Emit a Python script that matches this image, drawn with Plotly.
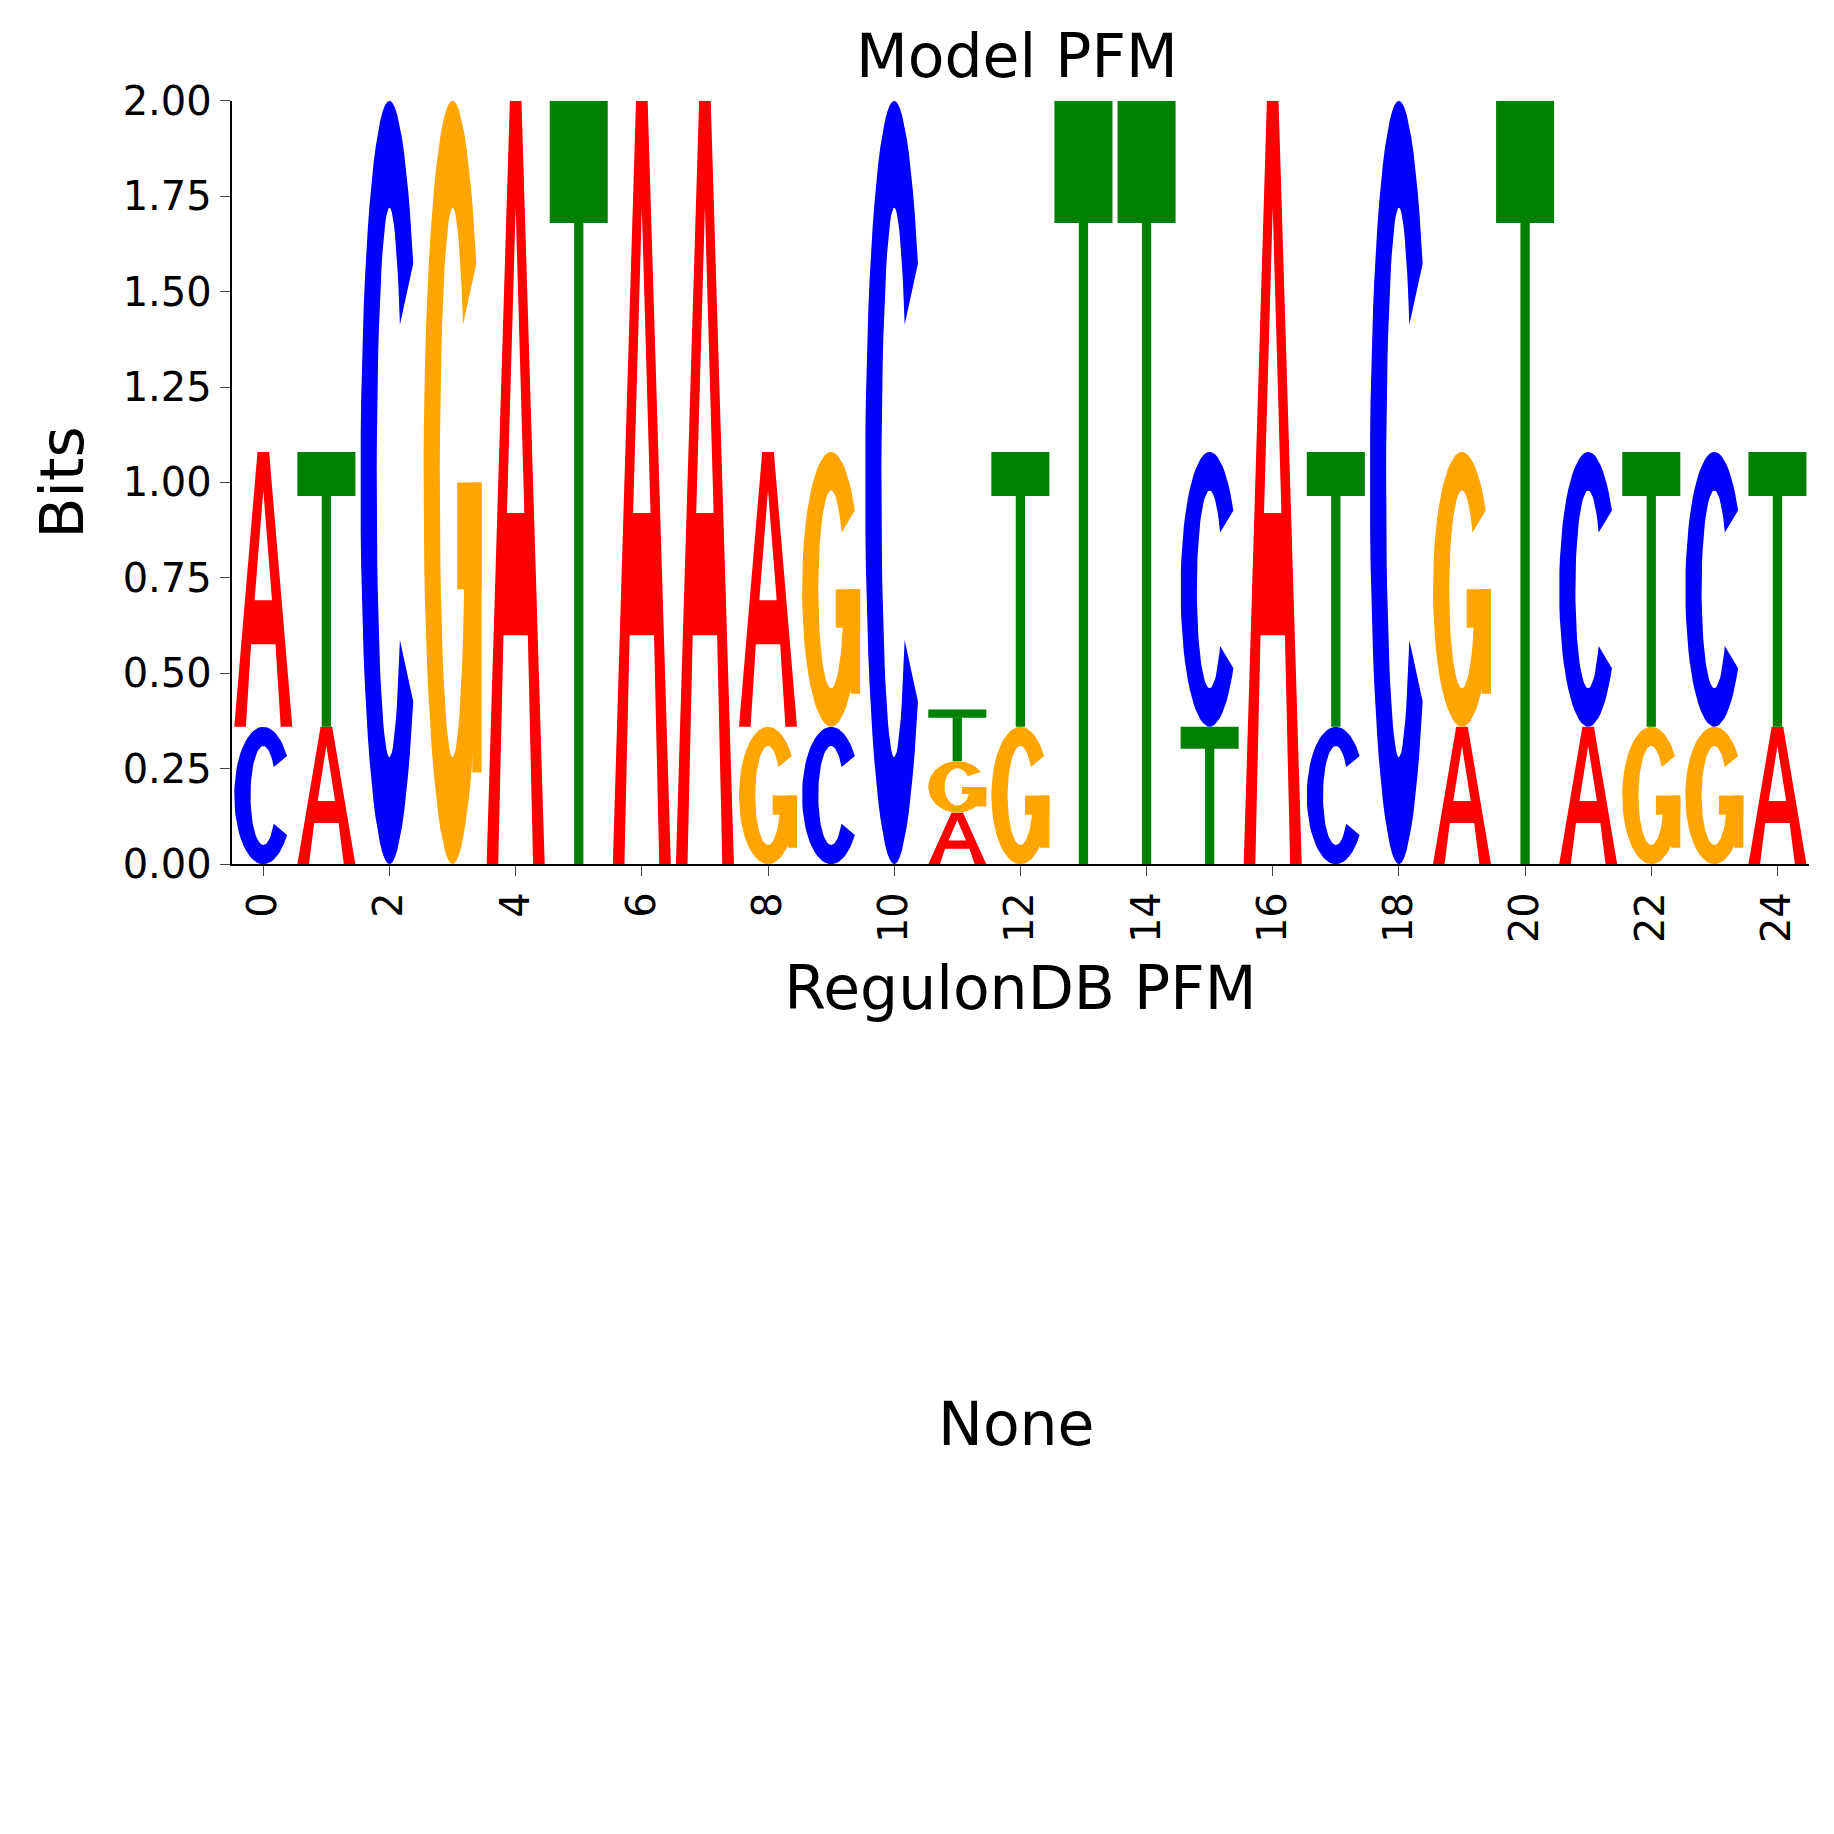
import numpy as np
import plotly.graph_objects as go

# ---- data: per position, letters stacked bottom->top with heights (bits)
positions = list(range(25))
letters = [
    ["C", "A"], ["A", "T"], ["C"], ["G"], ["A"], ["T"], ["A"], ["A"],
    ["G", "A"], ["C", "G"], ["C"], ["A", "G", "T"], ["G", "T"], ["T"], ["T"],
    ["T", "C"], ["A"], ["C", "T"], ["C"], ["A", "G"], ["T"], ["A", "C"],
    ["G", "T"], ["G", "C"], ["A", "T"],
]
heights = [
    [0.36, 0.72], [0.36, 0.72], [2.0], [2.0], [2.0], [2.0], [2.0], [2.0],
    [0.36, 0.72], [0.36, 0.72], [2.0], [0.135, 0.135, 0.135], [0.36, 0.72], [2.0], [2.0],
    [0.36, 0.72], [2.0], [0.36, 0.72], [2.0], [0.36, 0.72], [2.0], [0.36, 0.72],
    [0.36, 0.72], [0.36, 0.72], [0.36, 0.72],
]
colors = {"A": "red", "C": "blue", "G": "orange", "T": "green"}
x_ticks = list(range(0, 25, 2))
y_ticks = [0, 0.25, 0.5, 0.75, 1.0, 1.25, 1.5, 1.75, 2.0]


# ---- glyph templates in unit box
def arc(a0, a1, rx, ry, n=60):
    t = np.radians(np.linspace(a0, a1, n))
    return list(zip(0.5 + rx * np.cos(t), 0.5 + ry * np.sin(t)))


def c_shape(a0, a1):
    outer = arc(a0, a1, 0.5, 0.5)
    inner = arc(a1, a0, 0.22, 0.36)
    return outer + inner


def glyph(letter):
    if letter == "T":
        return [[(0, 0.84), (1, 0.84), (1, 1), (0, 1), (0, 0.84)],
                [(0.42, 0), (0.58, 0), (0.58, 0.85), (0.42, 0.85)]]
    if letter == "A":
        outer = [(0.4, 1.0), (0, 0), (0.2, 0), (0.29, 0.3), (0.71, 0.3), (0.8, 0), (1, 0), (0.6, 1.0), (0.4, 1.0)]
        hole = [(0.4, 1.0), (0.35, 0.46), (0.5, 0.86), (0.65, 0.46), (0.35, 0.46), (0.4, 1.0)]
        return [outer + hole[1:]]
    if letter == "C":
        return [c_shape(35, 325)]
    if letter == "G":
        return [c_shape(35, 345),
                [(0.58, 0.36), (1.0, 0.36), (1.0, 0.5), (0.58, 0.5)],
                [(0.84, 0.12), (1.0, 0.12), (1.0, 0.5), (0.84, 0.5)]]


fig = go.Figure()
w = 0.92
for p, lets, hs in zip(positions, letters, heights):
    base = 0.0
    for L, h in zip(lets, hs):
        for poly in glyph(L):
            xs = [p - w / 2 + u * w for u, v in poly]
            ys = [base + v * h for u, v in poly]
            fig.add_trace(go.Scatter(x=xs, y=ys, mode="lines", fill="toself",
                                     fillcolor=colors[L], line=dict(width=0),
                                     hoverinfo="skip", showlegend=False,
                                     xaxis="x", yaxis="y"))
        base += h

font = "DejaVu Sans"
fig.update_layout(
    width=1834, height=1834, margin=dict(l=0, r=0, t=0, b=0),
    plot_bgcolor="white", paper_bgcolor="white",
    font=dict(family=font, color="black"),
    xaxis=dict(domain=[0.122, 0.982], anchor="y", range=[-0.5, 24.5],
               tickvals=x_ticks, tickangle=-90, ticks="outside", ticklen=10,
               showgrid=False, zeroline=False, showline=True, linecolor="black",
               linewidth=2, tickfont=dict(size=40),
               title=dict(text="RegulonDB PFM", font=dict(size=60), standoff=25)),
    yaxis=dict(domain=[0.534, 0.961], anchor="x", range=[0, 2],
               tickvals=y_ticks, tickformat=".2f", ticks="outside", ticklen=10,
               showgrid=False, zeroline=False, showline=True, linecolor="black",
               linewidth=2, tickfont=dict(size=40),
               title=dict(text="Bits", font=dict(size=60), standoff=20)),
    annotations=[
        dict(text="Model PFM", x=0.550, y=0.986, xref="paper", yref="paper",
             showarrow=False, font=dict(size=60), yanchor="middle"),
        dict(text="None", x=0.550, y=0.221, xref="paper", yref="paper",
             showarrow=False, font=dict(size=60), yanchor="middle"),
    ],
)
fig.write_html("out.html")
